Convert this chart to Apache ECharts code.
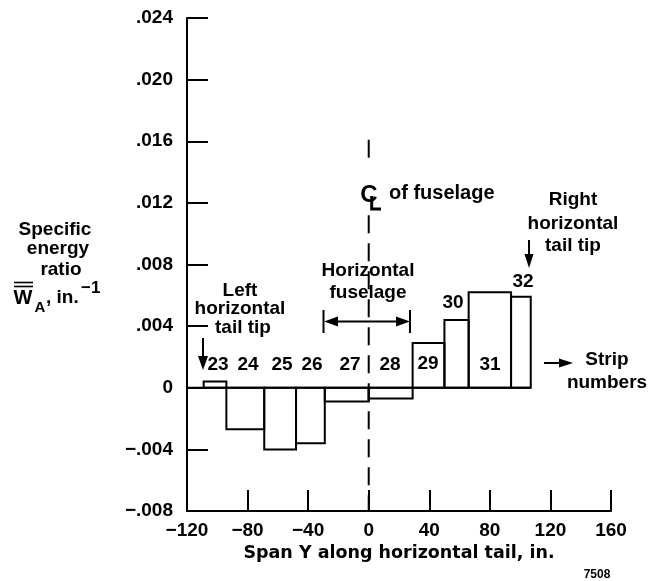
<!DOCTYPE html>
<html><head><meta charset="utf-8">
<script src="https://cdn.jsdelivr.net/npm/echarts@6/dist/echarts.min.js"></script>
<style>html,body{margin:0;padding:0;background:#fff}#c{width:664px;height:581px}</style>
</head><body><div id="c"></div>
<script>
// ---- data ----
const stripNumbers = ['23','24','25','26','27','28','29','30','31','32'];
const stripStart   = [-109, -94, -69, -48, -29,   0,  29,  50,  66,  94];
const stripEnd     = [ -94, -69, -48, -29,   0,  29,  50,  66,  94, 107];
const energyRatio  = [0.0004, -0.0027, -0.0040, -0.0036, -0.0009, -0.0007, 0.0029, 0.0044, 0.0062, 0.0059];
const xMin = -120, xMax = 160, xStep = 40;
const yMin = -0.008, yMax = 0.024, yStep = 0.004;
const baselineSpan = [-120, 107];
const centerlineUpper = [0.0161, 0.0149];
const centerlineLower = [0.0112, -0.008];

const FONT = '"Liberation Sans", Arial, Helvetica, sans-serif';
const chart = echarts.init(document.getElementById('c'), null, {renderer: 'canvas'});

function fmtX(v){ return v < 0 ? '\u2212' + Math.abs(v) : String(v); }
function fmtY(v){
  if (Math.abs(v) < 1e-12) return '0';
  const s = Math.abs(v).toFixed(3).replace(/^0/, '');
  return (v < 0 ? '\u2212' : '') + s;
}
function txt(x, y, s, size, align, family){
  return {type:'text', x:x, y:y, z:20,
    style:{text:s, fontSize:size, fontWeight:'bold', fontFamily:family || FONT, fill:'#000',
      textAlign:align || 'center', textVerticalAlign:'middle'}};
}
function seg(x1,y1,x2,y2,w){ return {type:'line', z:20, shape:{x1:x1,y1:y1,x2:x2,y2:y2}, style:{stroke:'#000', lineWidth:w||2}}; }
function tri(pts){ return {type:'polygon', z:20, shape:{points:pts}, style:{fill:'#000'}}; }

const stripData = stripNumbers.map((n, i) => [stripStart[i], stripEnd[i], energyRatio[i]]);

// strip number label positions (pixels)
const stripLabelPos = [[218,365],[248,365],[282,365],[312,365],[350,365],[390,365],[428,364],[453,303],[490,365],[523,282]];

const graphics = [];
stripNumbers.forEach((n,i) => graphics.push(txt(stripLabelPos[i][0], stripLabelPos[i][1], n, 19)));
// y axis title
graphics.push(txt(55, 230, 'Specific', 19));
graphics.push(txt(58, 249, 'energy', 19));
graphics.push(txt(61, 270, 'ratio', 19));
graphics.push(txt(23, 298, 'W', 20));
graphics.push(seg(14, 282.5, 33, 282.5, 1.6));
graphics.push(seg(14, 286.5, 33, 286.5, 1.6));
graphics.push(txt(40, 308, 'A', 15));
graphics.push(txt(46, 298, ', in.', 19, 'left'));
graphics.push(txt(81, 288, '\u22121', 17, 'left'));
// Left tail tip
graphics.push(txt(240, 291, 'Left', 19));
graphics.push(txt(240, 309, 'horizontal', 19));
graphics.push(txt(243, 328, 'tail tip', 19));
graphics.push(seg(203, 338, 203, 358, 2));
graphics.push(tri([[198,356],[208,356],[203,370]]));
// Right tail tip
graphics.push(txt(573, 200, 'Right', 19));
graphics.push(txt(573, 224, 'horizontal', 19));
graphics.push(txt(573, 246, 'tail tip', 19));
graphics.push(seg(529, 240, 529, 256, 2));
graphics.push(tri([[524.5,254],[533.5,254],[529,268]]));
// Strip numbers
graphics.push(txt(607, 360, 'Strip', 19));
graphics.push(txt(607, 383, 'numbers', 19));
graphics.push(seg(544, 363, 561, 363, 2));
graphics.push(tri([[559,358.5],[559,367.5],[573,363]]));
// Horizontal fuselage
graphics.push(txt(368, 271, 'Horizontal', 19));
graphics.push(txt(368, 293, 'fuselage', 19));
graphics.push(seg(336, 321.5, 398, 321.5, 2));
graphics.push(tri([[324,321.5],[338,316.5],[338,326.5]]));
graphics.push(tri([[410,321.5],[396,316.5],[396,326.5]]));
graphics.push(seg(323.5, 310, 323.5, 333, 2));
graphics.push(seg(410, 310, 410, 333, 2));
// CL of fuselage
graphics.push(txt(369, 195, 'C', 24));
graphics.push({type:'polyline', z:21, shape:{points:[[371.7,196],[371.7,209],[381,209]]}, style:{stroke:'#000', lineWidth:3, fill:null}});
graphics.push(txt(389, 193, 'of fuselage', 20, 'left'));
// figure number
graphics.push(txt(597, 575, '7508', 12));

const option = {
  animation: false,
  backgroundColor: '#fff',
  grid: {left: 187, right: 53, top: 18, bottom: 70, containLabel: false},
  xAxis: {
    type: 'value', min: xMin, max: xMax, interval: xStep,
    axisLine: {show: true, onZero: false, lineStyle: {color: '#000', width: 2}},
    axisTick: {show: true, inside: true, length: 21, lineStyle: {color: '#000', width: 2}},
    splitLine: {show: false},
    axisLabel: {formatter: fmtX, color: '#000', fontSize: 19, fontWeight: 'bold', fontFamily: FONT, margin: 10},
    name: 'Span Y along horizontal tail, in.', nameLocation: 'middle', nameGap: 31,
    nameTextStyle: {color: '#000', fontSize: 17.5, fontWeight: 'bold', fontFamily: '"DejaVu Sans", sans-serif'}
  },
  yAxis: {
    type: 'value', min: yMin, max: yMax, interval: yStep,
    axisLine: {show: true, onZero: false, lineStyle: {color: '#000', width: 2}},
    axisTick: {show: true, inside: true, length: 21, lineStyle: {color: '#000', width: 2}},
    splitLine: {show: false},
    axisLabel: {formatter: fmtY, color: '#000', fontSize: 19, fontWeight: 'bold', fontFamily: FONT, margin: 14}
  },
  series: [
    {
      type: 'custom', name: 'strips', data: stripData, encode: {x: [0, 1], y: 2},
      renderItem: function(params, api){
        const x0 = api.value(0), x1 = api.value(1), v = api.value(2);
        const p0 = api.coord([x0, 0]), p1 = api.coord([x1, v]);
        return {type: 'rect', shape: {x: p0[0], y: Math.min(p0[1], p1[1]), width: p1[0] - p0[0], height: Math.abs(p1[1] - p0[1])},
          style: {fill: 'rgba(0,0,0,0)', stroke: '#000', lineWidth: 2}};
      },
      z: 5
    },
    {type: 'line', name: 'baseline', data: [[baselineSpan[0], 0], [baselineSpan[1], 0]], symbol: 'none', lineStyle: {color: '#000', width: 2}, z: 4},
    {type: 'line', name: 'cl1', data: [[0, centerlineUpper[0]], [0, centerlineUpper[1]]], symbol: 'none', lineStyle: {color: '#000', width: 2, type: [18, 10]}, z: 3},
    {type: 'line', name: 'cl2', data: [[0, centerlineLower[0]], [0, centerlineLower[1]]], symbol: 'none', lineStyle: {color: '#000', width: 2, type: [18, 10]}, z: 3}
  ],
  graphic: graphics
};
chart.setOption(option);
</script>
</body></html>
